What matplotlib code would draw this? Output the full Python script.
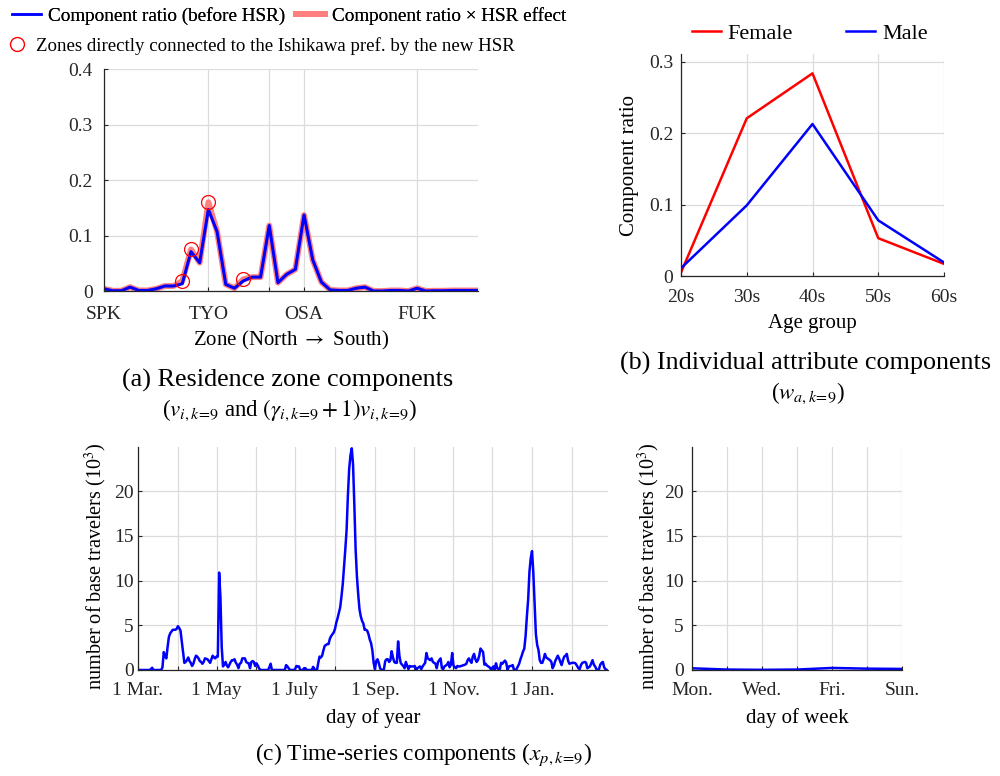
import numpy as np
import matplotlib
matplotlib.use("Agg")
import matplotlib.pyplot as plt
from matplotlib.lines import Line2D

plt.rcParams['font.family'] = ['Liberation Serif', 'DejaVu Serif']
plt.rcParams['mathtext.fontset'] = 'stix'
plt.rcParams['font.size'] = 14

# ---------------- data ----------------
# (a) residence zone components, zones ordered north -> south
zone_ratio = [0.004, 0.0005, 0.0005, 0.007, 0.001, 0.001, 0.004, 0.009, 0.009, 0.013,
              0.071, 0.051, 0.147, 0.107, 0.012, 0.005, 0.018, 0.025, 0.025, 0.118,
              0.015, 0.030, 0.039, 0.137, 0.056, 0.016, 0.002, 0.001, 0.001, 0.005,
              0.007, 0.0, 0.0, 0.001, 0.001, 0.0, 0.005, 0.0, 0.0005, 0.0005,
              0.001, 0.001, 0.001, 0.001]
zone_ratio_hsr = [0.004, 0.0005, 0.0005, 0.007, 0.001, 0.001, 0.004, 0.009, 0.009, 0.018,
                  0.075, 0.051, 0.160, 0.107, 0.012, 0.005, 0.021, 0.025, 0.025, 0.118,
                  0.015, 0.030, 0.039, 0.137, 0.056, 0.016, 0.002, 0.001, 0.001, 0.005,
                  0.007, 0.0, 0.0, 0.001, 0.001, 0.0, 0.005, 0.0, 0.0005, 0.0005,
                  0.001, 0.001, 0.001, 0.001]
hsr_zones = [9, 10, 12, 16]
zone_ticks = [0, 12, 19, 23, 36]
zone_ticklabels = ['SPK', 'TYO', '', 'OSA', 'FUK']

# (b) individual attribute components
age_groups = ['20s', '30s', '40s', '50s', '60s']
female = [0.005, 0.221, 0.284, 0.053, 0.017]
male = [0.011, 0.099, 0.213, 0.078, 0.019]

# (c) time series components (10^3 travelers), day 0 = 1 Mar.
daily = [
    0, 0, 0, 0, 0, 0, 0, 0, 0, 0,
    0.1, 0.25, 0, 0, 0, 0, 0, 0, 0, 0.3,
    2.0, 1.6, 1.3, 2.6, 3.7, 4.1, 4.3, 4.5, 4.5, 4.5,
    4.6, 4.9, 4.7, 4.4, 3.2, 2.0, 0.8, 0.9, 1.1, 1.4,
    1.0, 0.8, 0.45, 0.7, 1.2, 1.6, 1.5, 1.3, 1.0, 0.9,
    0.7, 0.9, 1.3, 1.25, 1.2, 1.0, 0.8, 1.2, 1.6, 1.4,
    1.3, 1.5, 1.5, 10.9, 8.2, 2.6, 0.4, 0.6, 0.9, 0.5,
    0.3, 0.6, 0.9, 1.1, 1.1, 1.2, 0.8, 0.6, 0.2, 0.7,
    0.8, 1.3, 1.3, 1.3, 0.9, 0.8, 0.75, 0.2, 0.9, 1.0,
    0.9, 0.45, 0.75, 0.5, 0.2, 0, 0, 0, 0, 0,
    0, 0, 0.3, 0.7, 0, 0, 0, 0, 0, 0,
    0, 0, 0, 0, 0, 0.55, 0.4, 0.2, 0, 0,
    0, 0, 0.1, 0.45, 0.4, 0.4, 0, 0, 0, 0.2,
    0.2, 0, 0, 0, 0, 0, 0.35, 0.1, 0, 0,
    0.8, 1.5, 1.4, 1.6, 2.2, 2.7, 2.8, 2.9, 2.9, 3.5,
    3.8, 4.0, 4.2, 4.6, 5.3, 5.8, 6.4, 7.0, 8.2, 9.6,
    11.5, 13.5, 15.7, 19.5, 22.5, 24.0, 24.8, 23.0, 18.5, 13.5,
    10.5, 8.5, 6.8, 6.0, 5.5, 5.2, 4.5, 4.5, 4.4, 4.0,
    3.4, 3.0, 2.2, 0.8, 0.1, 1.0, 1.2, 0.8, 0.2, 0,
    0, 0.1, 1.0, 1.2, 1.2, 0.9, 1.1, 2.1, 1.4, 0.9,
    0.8, 0.8, 3.2, 1.6, 0.8, 0.6, 0.45, 0.2, 0.9, 0.5,
    0.1, 0.45, 0.4, 0.4, 0.4, 0.45, 0, 0.2, 0.3, 0.4,
    0.1, 0.4, 0.6, 0.8, 1.9, 1.3, 1.2, 1.1, 1.3, 0.9,
    0.8, 0.7, 0.2, 0.9, 1.1, 1.3, 0.2, 0.1, 0.4, 0.5,
    0.6, 0.9, 0.3, 0.6, 1.9, 0.5, 0.3, 0.2, 0.45, 0.4,
    0.4, 0.45, 0.5, 0.55, 0.6, 0.7, 1.1, 1.3, 1.0, 0.8,
    1.5, 1.8, 1.2, 0.9, 1.1, 1.6, 2.4, 2.2, 2.0, 0.6,
    0.7, 0.5, 0.4, 0.3, 0.1, 0.2, 0.4, 0, 0.75, 0.2,
    0.1, 0.1, 0.8, 0.7, 0.9, 1.05, 0.8, 0, 0.4, 0.45,
    0.45, 0.55, 0, 0, 0.1, 0.4, 0.7, 1.2, 1.6, 2.06,
    2.4, 3.8, 6.0, 7.9, 11.0, 12.5, 13.3, 10.9, 7.5, 4.0,
    2.8, 2.25, 1.1, 0.8, 0.8, 1.2, 1.8, 1.4, 1.3, 1.2,
    1.1, 0.9, 0.2, 0.5, 1.0, 1.3, 1.6, 1.3, 0.9, 0.55,
    1.1, 1.5, 1.6, 1.8, 1.05, 0.7, 0.75, 0.8, 0.8, 0.8,
    0.7, 0.45, 0.2, 0.1, 0.55, 0.8, 0.85, 0.9, 0.8, 0.2,
    0.3, 0.4, 0.75, 1.1, 0.6, 0.4, 0.1, 0, 0.1, 0.6,
    0.8, 0.9, 0.3, 0.1, 0,
]
month_starts = [0, 31, 61, 92, 122, 153, 184, 214, 245, 275, 306, 337]
month_labels = ['1 Mar.', '', '1 May', '', '1 July', '', '1 Sep.', '', '1 Nov.', '', '1 Jan.', '']

weekdays = ['Mon.', '', 'Wed.', '', 'Fri.', '', 'Sun.']
weekly = [0.19, 0.05, 0.02, 0.05, 0.23, 0.15, 0.12]

# ---------------- styling helpers ----------------
GRID = '#dcdcdc'
SPINE = '#262626'


def style(ax, ypad):
    ax.grid(True, color=GRID, linewidth=0.9)
    ax.set_axisbelow(True)
    for s in ['top', 'right']:
        ax.spines[s].set_visible(False)
    for s in ['left', 'bottom']:
        ax.spines[s].set_color(SPINE)
        ax.spines[s].set_linewidth(0.9)
    ax.tick_params(direction='in', length=3, color=SPINE, labelcolor='#262626',
                   labelsize=14)
    ax.tick_params(axis='x', pad=9)
    ax.tick_params(axis='y', pad=ypad)


fig = plt.figure(figsize=(10, 7.76), dpi=100)

# ---------------- (a) ----------------
ax_a = fig.add_axes([0.104, 0.625, 0.374, 0.286])
zx = np.arange(len(zone_ratio))
ax_a.plot(zx, zone_ratio_hsr, color='#ff7f7f', lw=4.2, solid_capstyle='round')
ax_a.plot(zx, zone_ratio, color='#0000ff', lw=2.2)
ax_a.plot([zx[i] for i in hsr_zones], [zone_ratio_hsr[i] for i in hsr_zones],
          linestyle='none', marker='o', markersize=10, markerfacecolor='none',
          markeredgecolor='#ff0000', markeredgewidth=0.9)
ax_a.set_xlim(0, len(zone_ratio) - 1)
ax_a.set_ylim(0, 0.4)
ax_a.set_yticks([0, 0.1, 0.2, 0.3, 0.4])
ax_a.set_yticklabels(['0', '0.1', '0.2', '0.3', '0.4'])
ax_a.set_xticks(zone_ticks)
ax_a.set_xticklabels(zone_ticklabels)
style(ax_a, 8)
ax_a.tick_params(axis='x', pad=11)
ax_a.set_xlabel(r'Zone (North $\rightarrow$ South)', fontsize=15, labelpad=4)

leg1 = fig.legend([Line2D([], [], color='#0000ff', lw=1.8),
                   Line2D([], [], color='#ff7f7f', lw=4.2)],
                  ['Component ratio (before HSR)', 'Component ratio \u00d7 HSR effect'],
                  loc='upper left', bbox_to_anchor=(0.008, 0.996), ncol=2, frameon=False,
                  fontsize=13.8, handlelength=1.5, handletextpad=0.37, columnspacing=0.6,
                  borderpad=0.2, borderaxespad=0)
fig.add_artist(leg1)
fig.legend([Line2D([], [], linestyle='none', marker='o', markersize=10,
                   markerfacecolor='none', markeredgecolor='#ff0000', markeredgewidth=1)],
           ['Zones directly connected to the Ishikawa pref. by the new HSR'],
           loc='upper left', bbox_to_anchor=(0.004, 0.957), frameon=False, fontsize=13.6,
           handlelength=1.0, handletextpad=0.5, borderpad=0.2, borderaxespad=0)

fig.text(0.288, 0.510, '(a) Residence zone components', ha='center', va='center',
         fontsize=18.8)
fig.text(0.290, 0.471, r'($v_{i,k\!=\!9}$ and $(\gamma_{i,k\!=\!9}+1)v_{i,k\!=\!9}$)',
         ha='center', va='center', fontsize=16.5)

# ---------------- (b) ----------------
ax_b = fig.add_axes([0.681, 0.6443, 0.263, 0.286])
ages = np.arange(len(age_groups))
ax_b.plot(ages, female, color='#ff0000', lw=1.8, label='Female')
ax_b.plot(ages, male, color='#0000ff', lw=1.8, label='Male')
ax_b.set_xlim(0, len(age_groups) - 1)
ax_b.set_ylim(0, 0.311)
ax_b.set_yticks([0, 0.1, 0.2, 0.3])
ax_b.set_yticklabels(['0', '0.1', '0.2', '0.3'])
ax_b.set_xticks(ages)
ax_b.set_xticklabels(age_groups)
style(ax_b, 5.5)
ax_b.set_ylabel('Component ratio', fontsize=15, labelpad=7)
ax_b.set_xlabel('Age group', fontsize=15, labelpad=6)
ax_b.legend(loc='lower center', bbox_to_anchor=(0.49, 1.005), ncol=2, frameon=False,
            fontsize=16, handlelength=1.3, handletextpad=0.32, columnspacing=2.4,
            borderaxespad=0)

fig.text(0.806, 0.532, '(b) Individual attribute components', ha='center', va='center',
         fontsize=18.8)
fig.text(0.808, 0.493, r'($w_{a,k\!=\!9}$)', ha='center', va='center', fontsize=16.5)

# ---------------- (c) ----------------
ax_c = fig.add_axes([0.138, 0.1366, 0.470, 0.2874])
ax_c.plot(np.arange(len(daily)), daily, color='#0000ff', lw=1.8)
ax_c.set_xlim(0, 365)
ax_c.set_ylim(0, 24.95)
ax_c.set_yticks([0, 5, 10, 15, 20])
ax_c.set_xticks(month_starts)
ax_c.set_xticklabels(month_labels)
style(ax_c, 3)
ax_c.set_ylabel('number of base travelers (10$^3$)', fontsize=14.6)
ax_c.yaxis.set_label_coords(-0.062, 0.465)
ax_c.set_xlabel('day of year', fontsize=15, labelpad=6)

ax_d = fig.add_axes([0.692, 0.1366, 0.210, 0.2874])
ax_d.plot(np.arange(len(weekly)), weekly, color='#0000ff', lw=1.8)
ax_d.set_xlim(0, len(weekly) - 1)
ax_d.set_ylim(0, 24.95)
ax_d.set_yticks([0, 5, 10, 15, 20])
ax_d.set_xticks(np.arange(len(weekly)))
ax_d.set_xticklabels(weekdays)
style(ax_d, 6)
ax_d.set_ylabel('number of base travelers (10$^3$)', fontsize=14.6)
ax_d.yaxis.set_label_coords(-0.145, 0.465)
ax_d.set_xlabel('day of week', fontsize=15, labelpad=6)

fig.text(0.423, 0.027, r'(c) Time-series components ($x_{p,k\!=\!9}$)', ha='center',
         va='center', fontsize=16.8)

fig.savefig('out.png', dpi=100)
